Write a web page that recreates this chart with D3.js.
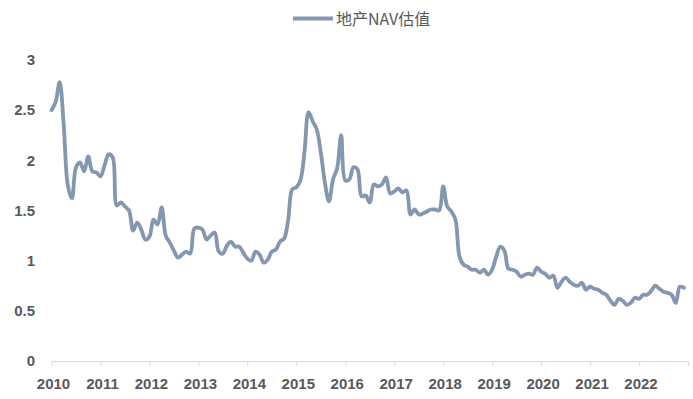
<!DOCTYPE html>
<html>
<head>
<meta charset="utf-8">
<script src="https://cdn.jsdelivr.net/npm/d3@7"></script>
<style>
  body { margin: 0; background: #fff; }
  svg { display: block; }
</style>
</head>
<body>
<script>
const seriesName = "地产NAV估值";
const yearLabels = ["2010", "2011", "2012", "2013", "2014", "2015", "2016", "2017", "2018", "2019", "2020", "2021", "2022"];
const yTicks = [0, 0.5, 1, 1.5, 2, 2.5, 3];
// monthly values, Jan 2010 - Dec 2022
const navValues = [
    2.50, 2.58, 2.78, 2.35, 1.75, 1.62, 1.93, 1.98, 1.89, 2.04, 1.89, 1.88,
    1.84, 1.95, 2.06, 2.03, 1.55, 1.58, 1.54, 1.50, 1.30, 1.38, 1.31, 1.21,
    1.24, 1.41, 1.36, 1.53, 1.25, 1.18, 1.10, 1.03, 1.06, 1.09, 1.07, 1.32,
    1.33, 1.31, 1.21, 1.25, 1.28, 1.09, 1.07, 1.15, 1.19, 1.14, 1.14, 1.08,
    1.02, 1.00, 1.09, 1.06, 0.98, 1.01, 1.09, 1.11, 1.19, 1.22, 1.40, 1.71,
    1.73, 1.80, 2.08, 2.48, 2.39, 2.31, 2.08, 1.78, 1.59, 1.81, 1.92, 2.25,
    1.80, 1.81, 1.93, 1.91, 1.64, 1.65, 1.58, 1.76, 1.74, 1.76, 1.83, 1.67,
    1.69, 1.72, 1.68, 1.70, 1.46, 1.51, 1.46, 1.47, 1.49, 1.51, 1.51, 1.50,
    1.74, 1.54, 1.49, 1.41, 1.04, 0.96, 0.94, 0.91, 0.91, 0.88, 0.91, 0.86,
    0.91, 1.04, 1.14, 1.10, 0.92, 0.91, 0.89, 0.84, 0.86, 0.87, 0.86, 0.93,
    0.89, 0.87, 0.83, 0.85, 0.73, 0.79, 0.83, 0.79, 0.76, 0.75, 0.78, 0.71,
    0.74, 0.72, 0.71, 0.68, 0.66, 0.60, 0.56, 0.62, 0.60, 0.56, 0.58, 0.63,
    0.62, 0.66, 0.66, 0.70, 0.75, 0.72, 0.69, 0.68, 0.66, 0.58, 0.74, 0.73
];

const width = 693;
const height = 399;
const margin = {top: 60, right: 5, bottom: 38, left: 51.5};
const lineColor = "#8497b0";
const textColor = "#595959";

function drawChart() {
    const svg = d3.select("body").append("svg")
        .attr("width", width)
        .attr("height", height);

    const xScale = d3.scaleLinear()
        .domain([0, yearLabels.length * 12])
        .range([margin.left, margin.left + 4.08 * yearLabels.length * 12]);

    const yScale = d3.scaleLinear()
        .domain([0, 3])
        .range([height - margin.bottom, margin.top]);

    // x axis
    const xTickValues = d3.range(0, yearLabels.length * 12 + 1, 12);
    const xAxis = d3.axisBottom(xScale)
        .tickValues(xTickValues)
        .tickSize(5)
        .tickSizeOuter(0)
        .tickFormat((d, i) => yearLabels[i] || "");

    const gx = svg.append("g")
        .attr("transform", "translate(0," + yScale(0) + ")")
        .call(xAxis);
    gx.select(".domain").attr("stroke", "#d9d9d9");
    gx.selectAll(".tick line").attr("stroke", "#d9d9d9");
    gx.selectAll(".tick text")
        .attr("x", 1.5)
        .attr("y", 17)
        .attr("dy", "0.71em")
        .attr("fill", textColor)
        .style("font-family", "'Liberation Sans', Arial, sans-serif")
        .style("font-size", "15px")
        .style("font-weight", "bold");

    // y axis
    const yAxis = d3.axisLeft(yScale)
        .tickValues(yTicks)
        .tickSize(0)
        .tickPadding(3)
        .tickFormat(d3.format("~g"));

    const gy = svg.append("g")
        .attr("transform", "translate(38,0)")
        .call(yAxis);
    gy.select(".domain").remove();
    gy.selectAll(".tick text")
        .attr("fill", textColor)
        .style("font-family", "'Liberation Sans', Arial, sans-serif")
        .style("font-size", "15px")
        .style("font-weight", "bold");

    // line
    const line = d3.line()
        .x((d, i) => xScale(i))
        .y(d => yScale(d))
        .curve(d3.curveCatmullRom.alpha(0.5));

    svg.append("path")
        .datum(navValues)
        .attr("fill", "none")
        .attr("stroke", lineColor)
        .attr("stroke-width", 3.8)
        .attr("stroke-linejoin", "round")
        .attr("stroke-linecap", "round")
        .attr("d", line);

    // legend
    const legend = svg.append("g").attr("transform", "translate(293,18.5)");
    legend.append("line")
        .attr("x1", 0).attr("x2", 40)
        .attr("stroke", lineColor)
        .attr("stroke-width", 3.8);
    legend.append("text")
        .attr("x", 43)
        .attr("y", 6)
        .attr("fill", textColor)
        .style("font-family", "'Noto Sans CJK SC', sans-serif")
        .style("font-size", "16px")
        .text(seriesName);
}

document.addEventListener("DOMContentLoaded", () => drawChart());
</script>
</body>
</html>
